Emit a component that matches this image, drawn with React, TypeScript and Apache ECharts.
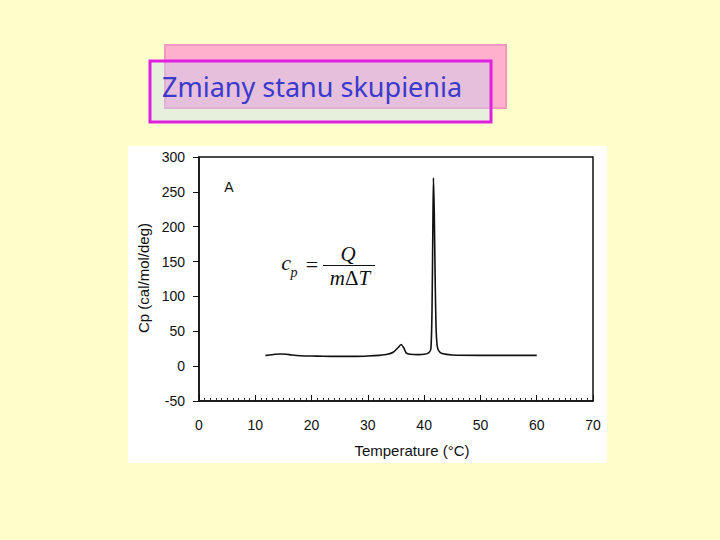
import React, { useEffect, useRef } from "react";
import * as echarts from "echarts";

const temperature = [
  11.8, 12.5, 13.5, 14.5, 15.5, 16.5, 18, 20, 22, 25, 28, 30, 32, 33.5, 34.5, 35.3, 35.9, 36.4,
  36.8, 37.5, 39, 40, 40.8, 41.2, 41.4, 41.55, 41.65, 41.8, 41.95, 42.1, 42.3, 42.6, 43.2, 45,
  50, 55, 60,
];
const cp = [
  15.5, 16, 17, 17.5, 17, 16, 15, 14.5, 14.2, 14, 14, 14.5, 15.5, 17, 20, 26, 31, 26,
  19, 17, 16.5, 17, 19, 25, 80, 200, 270, 220, 130, 60, 30, 22, 18, 16,
  15.5, 15.5, 15.5,
];
const yTicks = { min: -50, max: 300, interval: 50 };
const xTicks = { min: 0, max: 70, interval: 10 };
const titleText = "Zmiany stanu skupienia";
const xName = "Temperature (°C)";
const yName = "Cp (cal/mol/deg)";

export default function App() {
  const ref = useRef<HTMLDivElement>(null);
  useEffect(() => {
    document.body.style.margin = "0";
    const chart = echarts.init(ref.current!, null, { renderer: "svg" });
    const font = "Liberation Sans, Arial, sans-serif";
    const serif = "Liberation Serif, Times New Roman, serif";
    chart.setOption({
      animation: false,
      backgroundColor: "#ffffcc",
      grid: {
        left: 199,
        right: 127,
        top: 157,
        bottom: 139,
        show: true,
        borderColor: "#111",
        borderWidth: 1.5,
        backgroundColor: "transparent",
        z: 3,
      },
      graphic: [
        { type: "rect", z: -10, shape: { x: 128, y: 146, width: 479, height: 317 }, style: { fill: "#ffffff" } },
        { type: "rect", z: 1, shape: { x: 165, y: 45, width: 341, height: 63 }, style: { fill: "#ffb0cc", stroke: "#f598c0", lineWidth: 2 } },
        { type: "rect", z: 2, shape: { x: 150, y: 61, width: 341, height: 61 }, style: { fill: "rgba(191,216,245,0.39)", stroke: "#e020e0", lineWidth: 3 } },
        { type: "text", z: 3, x: 162, y: 86, style: { text: titleText, fill: "#3a3acc", font: "27px 'Noto Sans', sans-serif", verticalAlign: "middle" } },
        { type: "text", z: 5, x: 229, y: 187, style: { text: "A", fill: "#111", font: `14px ${font}`, align: "center", verticalAlign: "middle" } },
        { type: "text", z: 5, x: 412, y: 450, style: { text: xName, fill: "#111", font: `15px ${font}`, align: "center", verticalAlign: "middle" } },
        { type: "text", z: 5, x: 143, y: 278, rotation: Math.PI / 2, style: { text: yName, fill: "#111", font: `15px ${font}`, align: "center", verticalAlign: "middle" } },
        { type: "text", z: 5, x: 286, y: 262, style: { text: "c", fill: "#111", font: `italic 22px ${serif}`, align: "center", verticalAlign: "middle" } },
        { type: "text", z: 5, x: 294, y: 272, style: { text: "p", fill: "#111", font: `italic 14px ${serif}`, align: "center", verticalAlign: "middle" } },
        { type: "text", z: 5, x: 312, y: 264, style: { text: "=", fill: "#111", font: `22px ${serif}`, align: "center", verticalAlign: "middle" } },
        { type: "line", z: 5, shape: { x1: 323, y1: 265.5, x2: 375, y2: 265.5 }, style: { stroke: "#111", lineWidth: 1.2 } },
        { type: "text", z: 5, x: 348, y: 254, style: { text: "Q", fill: "#111", font: `italic 21px ${serif}`, align: "center", verticalAlign: "middle" } },
        {
          type: "text", z: 5, x: 350, y: 278,
          style: {
            text: "{i|m}{n|Δ}{i|T}", fill: "#111", align: "center", verticalAlign: "middle",
            rich: {
              i: { font: `italic 21px ${serif}`, fill: "#111" },
              n: { font: `21px ${serif}`, fill: "#111" },
            },
          },
        },
      ],
      xAxis: {
        type: "value",
        min: xTicks.min,
        max: xTicks.max,
        interval: xTicks.interval,
        axisLine: { show: true, onZero: false, lineStyle: { color: "#111", width: 1.5 } },
        axisTick: { show: true, inside: true, length: 6, lineStyle: { color: "#111" } },
        minorTick: { show: true, splitNumber: 10, length: 3, lineStyle: { color: "#333" } },
        splitLine: { show: false },
        axisLabel: { color: "#111", fontSize: 14, fontFamily: font, margin: 17 },
      },
      yAxis: {
        type: "value",
        min: yTicks.min,
        max: yTicks.max,
        interval: yTicks.interval,
        axisLine: { show: true, onZero: false, lineStyle: { color: "#111", width: 1.5 } },
        axisTick: { show: true, inside: false, length: 6, lineStyle: { color: "#111" } },
        splitLine: { show: false },
        axisLabel: { color: "#111", fontSize: 14, fontFamily: font, margin: 14 },
      },
      series: [
        {
          type: "line",
          data: temperature.map((t, i) => [t, cp[i]]),
          showSymbol: false,
          smooth: 0.2,
          lineStyle: { color: "#111", width: 1.6 },
          z: 4,
        },
      ],
    });
    return () => chart.dispose();
  }, []);
  return <div ref={ref} style={{ width: 720, height: 540, position: "absolute", left: 0, top: 0 }} />;
}
